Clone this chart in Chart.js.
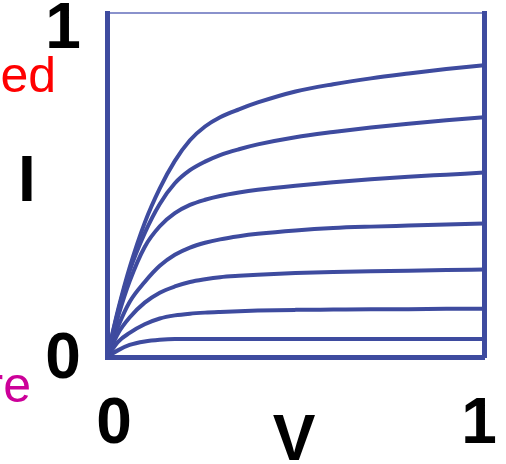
<!DOCTYPE html>
<html>
<head>
<meta charset="utf-8">
<script src="https://cdn.jsdelivr.net/npm/chart.js@4/dist/chart.umd.min.js"></script>
<style>
  html, body { margin: 0; padding: 0; background: #fff; }
  #wrap { width: 506px; height: 464px; }
</style>
</head>
<body>
<div id="wrap"><canvas id="ivChart" width="506" height="464"></canvas></div>
<script>
// Datos (V normalizado, I normalizado)
const volts  = [0, 0.03, 0.06, 0.1, 0.14, 0.18, 0.22, 0.26, 0.3, 0.35, 0.4, 0.5, 0.6, 0.7, 0.8, 0.9, 1.0];
const curve1 = [0, 0.14, 0.26, 0.39, 0.49, 0.57, 0.63, 0.67, 0.697, 0.72, 0.74, 0.772, 0.793, 0.81, 0.824, 0.837, 0.848];
const curve2 = [0, 0.135, 0.25, 0.36, 0.445, 0.505, 0.543, 0.568, 0.587, 0.604, 0.618, 0.639, 0.654, 0.667, 0.678, 0.688, 0.697];
const curve3 = [0, 0.12, 0.22, 0.32, 0.38, 0.418, 0.442, 0.457, 0.468, 0.478, 0.486, 0.498, 0.508, 0.517, 0.524, 0.530, 0.536];
const curve4 = [0, 0.09, 0.16, 0.218, 0.265, 0.297, 0.318, 0.332, 0.342, 0.351, 0.358, 0.368, 0.375, 0.379, 0.382, 0.385, 0.388];
const curve5 = [0, 0.07, 0.115, 0.158, 0.187, 0.205, 0.218, 0.226, 0.232, 0.236, 0.239, 0.244, 0.247, 0.249, 0.251, 0.253, 0.254];
const curve6 = [0, 0.045, 0.07, 0.095, 0.112, 0.121, 0.126, 0.129, 0.131, 0.133, 0.135, 0.137, 0.138, 0.139, 0.139, 0.140, 0.140];
const curve7 = [0, 0.02, 0.035, 0.045, 0.05, 0.052, 0.052, 0.052, 0.052, 0.052, 0.052, 0.052, 0.052, 0.052, 0.052, 0.052, 0.052];
const curves = [curve1, curve2, curve3, curve4, curve5, curve6, curve7];

const xTicks = [0, 1];
const yTicks = [0, 1];

const lineColor = '#3e4b9f';

// Textos alrededor del gráfico
const labelsPlugin = {
    id: 'ivLabels',
    afterDraw(chart) {
        const ctx = chart.ctx;
        const xs = chart.scales.x, ys = chart.scales.y;
        ctx.save();
        ctx.fillStyle = '#000';
        ctx.font = 'bold 64px "Liberation Sans", Arial, sans-serif';
        ctx.textAlign = 'center';
        ctx.textBaseline = 'alphabetic';
        // eje y
        ctx.fillText(String(yTicks[1]), 63, ys.getPixelForValue(yTicks[1]) + 35);
        ctx.fillText(String(yTicks[0]), 63, ys.getPixelForValue(yTicks[0]) + 21);
        // eje x
        ctx.fillText(String(xTicks[0]), xs.getPixelForValue(xTicks[0]) + 7, 443);
        ctx.fillText(String(xTicks[1]), xs.getPixelForValue(xTicks[1]) - 5, 443);
        // nombres de los ejes
        ctx.fillText('V', 294, 460);
        ctx.fillText('I', 27, 201);
        // textos cortados a la izquierda
        ctx.font = '50px "Liberation Sans", Arial, sans-serif';
        ctx.textAlign = 'right';
        ctx.fillStyle = '#ff0000';
        ctx.fillText('ed', 56, 92);
        ctx.fillStyle = '#cc0099';
        ctx.fillText('re', 31, 402);
        ctx.restore();
    }
};

const ctx = document.getElementById('ivChart').getContext('2d');
new Chart(ctx, {
    type: 'line',
    data: {
        datasets: curves.map((c, i) => ({
            label: 'curva ' + (i + 1),
            data: volts.map((v, j) => ({ x: v, y: c[j] })),
            borderColor: lineColor,
            borderWidth: 4,
            pointRadius: 0,
            fill: false,
            cubicInterpolationMode: 'monotone'
        }))
    },
    options: {
        responsive: false,
        animation: false,
        layout: { padding: { left: 107, right: 22, top: 13, bottom: 107 } },
        plugins: {
            legend: { display: false },
            tooltip: { enabled: false }
        },
        scales: {
            x: {
                type: 'linear', min: 0, max: 1, position: 'bottom',
                ticks: { display: false },
                grid: { display: false, drawTicks: false },
                border: { display: true, color: lineColor, width: 5 }
            },
            xTop: {
                type: 'linear', min: 0, max: 1, position: 'top',
                ticks: { display: false },
                grid: { display: false, drawTicks: false },
                border: { display: true, color: '#8a92cc', width: 2 }
            },
            y: {
                type: 'linear', min: 0, max: 1, position: 'left',
                ticks: { display: false },
                grid: { display: false, drawTicks: false },
                border: { display: true, color: lineColor, width: 5 }
            },
            yRight: {
                type: 'linear', min: 0, max: 1, position: 'right',
                ticks: { display: false },
                grid: { display: false, drawTicks: false },
                border: { display: true, color: lineColor, width: 5 }
            }
        }
    },
    plugins: [labelsPlugin]
});
</script>
</body>
</html>
